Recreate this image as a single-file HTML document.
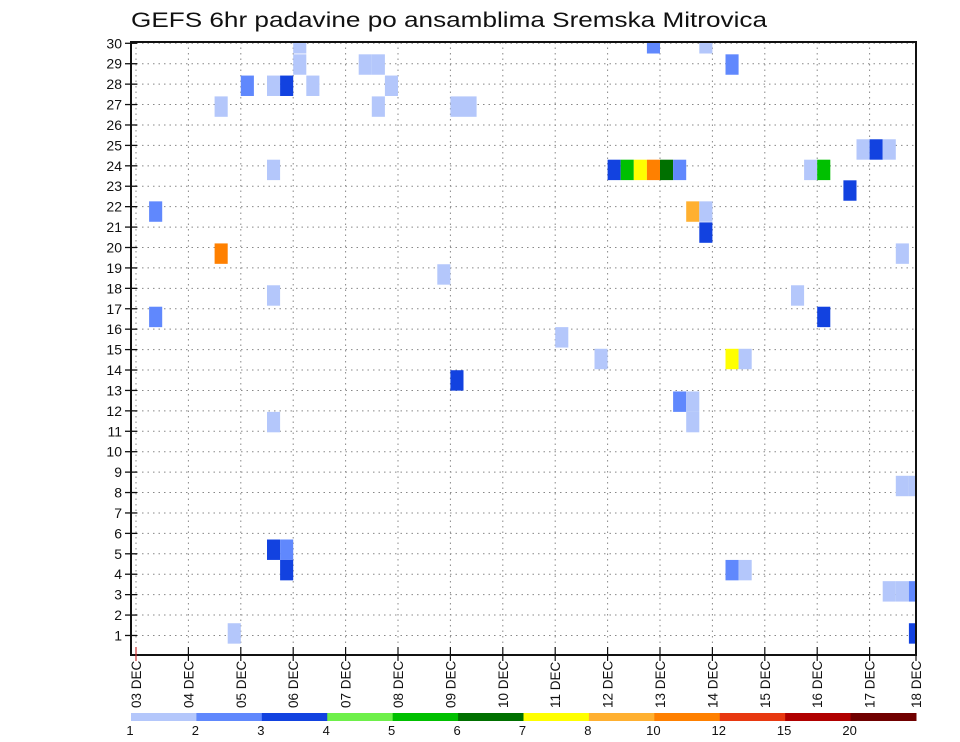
<!DOCTYPE html>
<html><head><meta charset="utf-8"><style>
html,body{margin:0;padding:0;background:#fff;}
svg{display:block;font-family:"Liberation Sans","DejaVu Sans",sans-serif;}
</style></head><body>
<svg id="chart" width="960" height="742" viewBox="0 0 960 742" xmlns="http://www.w3.org/2000/svg">
<text x="131" y="27" font-size="21" textLength="636" lengthAdjust="spacingAndGlyphs" fill="#111">GEFS 6hr padavine po ansamblima Sremska Mitrovica</text>
<g id="grid"></g><g id="cells"></g><g id="axes"></g><g id="legend"></g>
</svg>
<script>
// ---- data ----
const dayLabels = ["03 DEC","04 DEC","05 DEC","06 DEC","07 DEC","08 DEC","09 DEC","10 DEC","11 DEC","12 DEC","13 DEC","14 DEC","15 DEC","16 DEC","17 DEC","18 DEC"];
const memberTicks = [1,2,3,4,5,6,7,8,9,10,11,12,13,14,15,16,17,18,19,20,21,22,23,24,25,26,27,28,29,30];
const levelLabels = ["1","2","3","4","5","6","7","8","10","12","15","20"];
const levelColors = ["#b4c7fb","#6088fd","#1242e0","#6ef04a","#00c000","#007000","#ffff00","#ffb030","#ff8000","#e83810","#b00000","#700000"];
// cell member position (axis value), 6h step index from 03 DEC 00z, colour level index
const cellMember = [30,30,30, 28.96,28.96,28.96,28.96, 27.92,27.92,27.92,27.92,27.92, 26.9,26.9,26.9,26.9, 24.8,24.8,24.8, 23.8,23.8,23.8,23.8,23.8,23.8,23.8,23.8,23.8, 22.79, 21.76,21.76,21.76, 20.73, 19.7,19.7, 18.68, 17.65,17.65, 16.6,16.6, 15.6, 14.54,14.54,14.54, 13.49, 12.45,12.45, 11.45,11.45, 8.32,8.32, 5.2,5.2, 4.2,4.2,4.2, 3.16,3.16,3.16, 1.1,1.1];
const cellStep   = [12,39,43, 12,17,18,45, 8,10,11,13,19, 6,18,24,25, 55,56,57, 10,36,37,38,39,40,41,51,52, 54, 1,42,43, 43, 6,58, 23, 10,50, 1,52, 32, 35,45,46, 24, 41,42, 10,42, 58,59, 10,11, 11,45,46, 57,58,59, 7,59];
const cellLevel  = [0,1,0, 0,0,0,1, 1,0,2,0,0, 0,0,0,0, 0,2,0, 0,2,4,6,8,5,1,0,4, 2, 1,7,0, 2, 8,0, 0, 0,0, 1,2, 0, 0,6,0, 2, 1,0, 0,0, 0,0, 2,1, 2,1,0, 0,0,1, 0,2];
// ---- scales ----
const L=131, R=916, T=42, B=655;
const X0=136, DAYW=52.4, STEP=DAYW/4;
const xDay = d => X0 + d*DAYW;
const xStep = i => X0 + i*STEP;
const ROW=20.42;
const yM = m => 43.3 + (30-m)*ROW;
const NS="http://www.w3.org/2000/svg";
function mk(tag, parent, attrs){const e=document.createElementNS(NS,tag);for(const k in attrs)e.setAttribute(k,attrs[k]);parent.appendChild(e);return e;}
const grid=document.getElementById('grid'), cells=document.getElementById('cells'), axes=document.getElementById('axes'), legend=document.getElementById('legend');
// grid
memberTicks.forEach(m=>{
  const l=mk('line',grid,{x1:L,x2:R,y1:yM(m),y2:yM(m),stroke:'#888','stroke-width':1,'stroke-dasharray':'1.5 4'});
  
  
});
dayLabels.forEach((d,i)=>{
  const x=xDay(i); if(x>R) return;
  const l=mk('line',grid,{x1:x,x2:x,y1:T,y2:B,stroke:'#888','stroke-width':1,'stroke-dasharray':'1.5 4'});
  
  
});
// cells
const clip=mk('clipPath',cells,{id:'pc'}); mk('rect',clip,{x:L,y:T,width:R-L,height:B-T});
const cg=mk('g',cells,{'clip-path':'url(#pc)'});
cellMember.forEach((m,k)=>{
  const r=mk('rect',cg,{x:xStep(cellStep[k]),y:yM(m)-ROW/2,width:STEP,height:ROW,fill:levelColors[cellLevel[k]]});
  
  
});
// frame
const fr=mk('rect',axes,{x:L,y:T,width:R-L,height:B-T,fill:'none',stroke:'#111','stroke-width':2});


// y ticks & labels
memberTicks.forEach(m=>{
  mk('line',axes,{x1:L-6,x2:L+6,y1:yM(m),y2:yM(m),stroke:'#111','stroke-width':1.3});
  const t=mk('text',axes,{x:L-9,y:yM(m)+5,'text-anchor':'end','font-size':14,fill:'#111'});
  t.textContent=m;
  
  
});
// x ticks & labels
dayLabels.forEach((d,i)=>{
  const x=Math.min(xDay(i),R);
  mk('line',axes,{x1:x,x2:x,y1:B-8,y2:B+6,stroke:i==0?'#c33':'#111','stroke-width':1.2});
  const t=mk('text',axes,{x:0,y:0,'text-anchor':'start','font-size':13.5,fill:'#111',transform:`translate(${x+5},708) rotate(-90)`});
  t.textContent=d;
  
  
});
// legend colorbar
const SEGW=(R-L)/levelColors.length;
levelColors.forEach((c,i)=>{
  const r=mk('rect',legend,{x:L+i*SEGW,y:713,width:SEGW+0.5,height:8,fill:c});
  
  
});
levelLabels.forEach((s,i)=>{
  const t=mk('text',legend,{x:L+i*SEGW-1,y:735,'text-anchor':'middle','font-size':13,fill:'#111'});
  t.textContent=s;
  
  
});
</script>
</body></html>
